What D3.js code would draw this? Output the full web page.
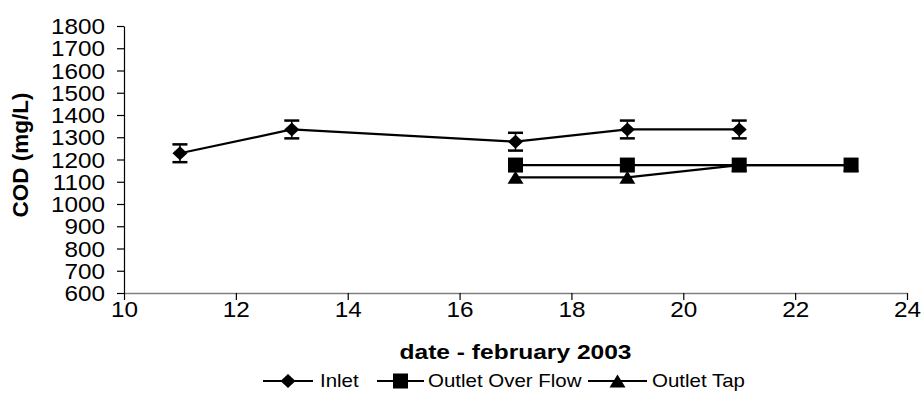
<!DOCTYPE html>
<html><head><meta charset="utf-8">
<script src="https://cdn.jsdelivr.net/npm/d3@7"></script>
<style>body{margin:0;background:#fff}svg{display:block}text{font-family:"Liberation Sans",Arial,sans-serif}</style>
</head><body><svg id="c" width="924" height="403"></svg>
<script>
const inletDays = [11, 13, 17, 19, 21];
const inletCOD = [1228, 1335, 1280, 1335, 1335];
const inletErr = [40, 40, 40, 40, 40];
const overflowDays = [17, 19, 21, 23];
const overflowCOD = [1175, 1175, 1175, 1175];
const tapDays = [17, 19, 21, 23];
const tapCOD = [1120, 1120, 1175, 1175];
const xTicks = [10, 12, 14, 16, 18, 20, 22, 24];
const yTicks = [600,700,800,900,1000,1100,1200,1300,1400,1500,1600,1700,1800];
const seriesNames = ["Inlet", "Outlet Over Flow", "Outlet Tap"];

const SX = 1.13;
const svg = d3.select("#c");
const x = d3.scaleLinear().domain([10, 24]).range([124, 907]);
const y = d3.scaleLinear().domain([600, 1800]).range([293, 26]);

// axes
const gy = svg.append("g").attr("transform", "translate(124,0)")
  .call(d3.axisLeft(y).tickValues(yTicks).tickFormat(d3.format("d")).tickSize(7).tickSizeOuter(0).tickPadding(4));
gy.attr("font-family", null).attr("font-size", null);
gy.select(".domain").attr("stroke", "#000").attr("stroke-width", 1.2);
gy.selectAll(".tick line").attr("stroke", "#000").attr("stroke-width", 1.2);
gy.selectAll(".tick text").style("font-size", "21.5px").attr("fill", "#000")
  .attr("transform", `scale(${SX},1)`).attr("x", -19/SX).attr("dy", "0.36em");

const gx = svg.append("g").attr("transform", "translate(0,293)")
  .call(d3.axisBottom(x).tickValues(xTicks).tickFormat(d3.format("d")).tickSize(7).tickSizeOuter(0).tickPadding(6));
gx.attr("font-family", null).attr("font-size", null);
gx.select(".domain").attr("stroke", "#808080").attr("stroke-width", 1.5);
gx.selectAll(".tick line").attr("stroke", "#000").attr("stroke-width", 1.2);
gx.selectAll(".tick text").style("font-size", "21.5px").attr("fill", "#000")
  .attr("transform", `scale(${SX},1)`).attr("y", 0).attr("dy", "1.12em");

// titles
svg.append("text").attr("transform", `translate(515.5,359) scale(1.17,1)`)
  .attr("text-anchor", "middle").style("font-size", "21px").attr("font-weight", "bold").text("date - february 2003");
svg.append("text").attr("transform", "translate(28,155) rotate(-90)")
  .attr("text-anchor", "middle").style("font-size", "22.5px").attr("font-weight", "bold").text("COD (mg/L)");

// markers
function marker(g, type, cx, cy) {
  if (type === 0) {
    g.append("path").attr("d", `M${cx-7.5},${cy}L${cx},${cy-7}L${cx+7.5},${cy}L${cx},${cy+7}Z`).attr("fill", "#000");
  } else if (type === 1) {
    g.append("rect").attr("x", cx-7.5).attr("y", cy-7.5).attr("width", 15).attr("height", 15).attr("fill", "#000");
  } else {
    g.append("path").attr("d", `M${cx-8},${cy+6.5}L${cx},${cy-6.5}L${cx+8},${cy+6.5}Z`).attr("fill", "#000");
  }
}

const line = d3.line().x(d => x(d[0])).y(d => y(d[1]));
const series = [
  {days: inletDays, vals: inletCOD},
  {days: overflowDays, vals: overflowCOD},
  {days: tapDays, vals: tapCOD}
];
const plot = svg.append("g");
inletDays.forEach((d, i) => {
  const cx = x(d), y1 = y(inletCOD[i] + inletErr[i]), y2 = y(inletCOD[i] - inletErr[i]);
  plot.append("line").attr("x1", cx).attr("x2", cx).attr("y1", y1).attr("y2", y2).attr("stroke", "#000").attr("stroke-width", 1.5);
  [y1, y2].forEach(yy => plot.append("line").attr("x1", cx-7.5).attr("x2", cx+7.5).attr("y1", yy).attr("y2", yy).attr("stroke", "#000").attr("stroke-width", 2.5));
});
series.forEach((s, k) => {
  const pts = s.days.map((d, i) => [d, s.vals[i]]);
  plot.append("path").attr("d", line(pts)).attr("fill", "none").attr("stroke", "#000").attr("stroke-width", 2.2);
  pts.forEach(p => marker(plot, k, x(p[0]), y(p[1])));
});

// legend
const legItems = [
  {x1: 263, x2: 313, tx: 320},
  {x1: 377, x2: 424, tx: 428},
  {x1: 588, x2: 647, tx: 652}
];
const ly = 381;
legItems.forEach((it, k) => {
  svg.append("line").attr("x1", it.x1).attr("x2", it.x2).attr("y1", ly).attr("y2", ly).attr("stroke", "#000").attr("stroke-width", 2.2);
  marker(svg, k, (it.x1 + it.x2) / 2, ly);
  svg.append("text").attr("transform", `translate(${it.tx},${ly+6}) scale(1.17,1)`)
    .style("font-size", "17.5px").attr("fill", "#000").text(seriesNames[k]);
});
</script></body></html>
